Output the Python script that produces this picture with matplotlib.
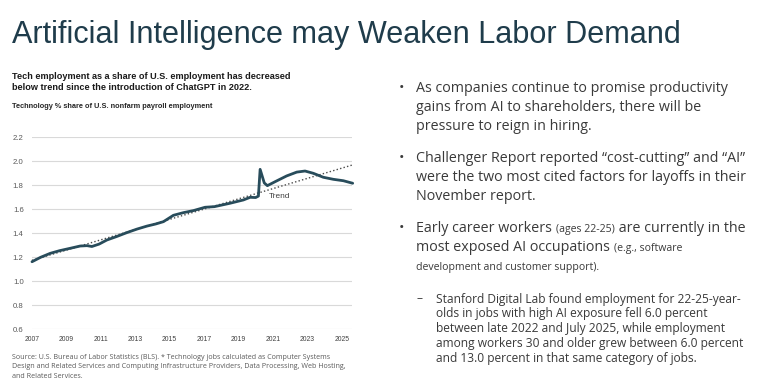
import matplotlib
matplotlib.use("Agg")
import matplotlib.pyplot as plt
from matplotlib import font_manager as fm

W, H = 780, 389
DPI = 100

# ---------------- data ----------------
years = [2007.0, 2007.5, 2008.06, 2008.6, 2009.22, 2009.8, 2010.2, 2010.48, 2010.9,
         2011.35, 2011.9, 2012.5, 2013.1, 2013.68, 2014.2, 2014.64, 2015.22, 2015.8,
         2016.38, 2017.06, 2017.6, 2018.5, 2019.29, 2019.68, 2020.0, 2020.16, 2020.26,
         2020.5, 2020.68, 2021.13, 2021.8, 2022.39, 2022.87, 2023.35, 2023.93, 2024.51,
         2025.1, 2025.64]
share = [1.163, 1.200, 1.233, 1.255, 1.275, 1.294, 1.297, 1.290, 1.310,
         1.344, 1.372, 1.405, 1.435, 1.460, 1.478, 1.497, 1.550, 1.572,
         1.589, 1.617, 1.622, 1.650, 1.678, 1.700, 1.698, 1.710, 1.933,
         1.820, 1.797, 1.830, 1.878, 1.910, 1.919, 1.900, 1.867, 1.850,
         1.838, 1.817]
trend_years = [2007.0, 2025.64]
trend_vals = [1.175, 1.970]
y_ticks = [0.6, 0.8, 1.0, 1.2, 1.4, 1.6, 1.8, 2.0, 2.2]
x_ticks = [2007, 2009, 2011, 2013, 2015, 2017, 2019, 2021, 2023, 2025]

title = "Artificial Intelligence may Weaken Labor Demand"
chart_title = ["Tech employment as a share of U.S. employment has decreased",
               "below trend since the introduction of ChatGPT in 2022."]
chart_sub = "Technology % share of U.S. nonfarm payroll employment"
source = ["Source: U.S. Bureau of Labor Statistics (BLS). * Technology jobs calculated as Computer Systems",
          "Design and Related Services and Computing Infrastructure Providers, Data Processing, Web Hosting,",
          "and Related Services."]

# ---------------- fonts ----------------
names = {f.name for f in fm.fontManager.ttflist}
NARROW = "Liberation Sans Narrow" if "Liberation Sans Narrow" in names else "Liberation Sans"
SANS = "Liberation Sans"
BODY = "Open Sans"

def pt(px):
    return px * 72.0 / DPI

fig = plt.figure(figsize=(W / DPI, H / DPI), dpi=DPI)
fig.patch.set_facecolor("white")

def fx(x):
    return x / W

def fy(y):
    return 1 - y / H

# ---------------- title ----------------
fig.text(fx(12), fy(43), title, fontsize=pt(30.7), family=SANS, color="#1f3c4b",
         va="baseline", ha="left")

fig.text(fx(12), fy(79), chart_title[0], fontsize=pt(9.1), family=NARROW,
         weight="bold", color="#1a1a1a", va="baseline")
fig.text(fx(12), fy(90.5), chart_title[1], fontsize=pt(9.1), family=NARROW,
         weight="bold", color="#1a1a1a", va="baseline")
fig.text(fx(12), fy(108.5), chart_sub, fontsize=pt(7.4), family=NARROW,
         weight="bold", color="#262626", va="baseline")

# ---------------- chart ----------------
x0, x1 = 32, 352
y_top, y_bot = 137.3, 329.3
ax = fig.add_axes([fx(x0), fy(y_bot), (x1 - x0) / W, (y_bot - y_top) / H])
ax.set_xlim(2007, 2025.6)
ax.set_ylim(0.6, 2.2)
for s in ax.spines.values():
    s.set_visible(False)
ax.set_yticks(y_ticks)
ax.set_yticklabels([f"{v:.1f}" for v in y_ticks], fontsize=pt(7.8), family=SANS,
                   color="#595959")
ax.set_xticks(x_ticks)
ax.set_xticklabels([str(v) for v in x_ticks], fontsize=pt(6.8), family=NARROW,
                   color="#404040")
ax.tick_params(axis="both", length=0)
ax.tick_params(axis="y", pad=6)
ax.tick_params(axis="x", pad=4.5)
ax.grid(axis="y", color="#d9d9d9", linewidth=0.8)
ax.set_axisbelow(True)
ax.plot(trend_years, trend_vals, linestyle=(0, (1, 1.6)), color="#4a4a4a",
        linewidth=1.0, clip_on=False)
ax.plot(years, share, color="#284c5b", linewidth=2.0, solid_joinstyle="round",
        solid_capstyle="round", clip_on=False)
ax.text(2021.38, 1.71, "Trend", fontsize=pt(8.3), family=NARROW, color="#404040",
        ha="center", va="center")

# ---------------- source ----------------
for i, line in enumerate(source):
    fig.text(fx(12), fy(359 + i * 9.5), line, fontsize=pt(7.2), family=BODY,
             color="#595959", va="baseline")

# ---------------- bullets ----------------
TXT = "#3a3a3a"
fig.canvas.draw()
renderer = fig.canvas.get_renderer()

def runs(x, y, parts):
    cx = x
    for text, size in parts:
        t = fig.text(fx(cx), fy(y), text, fontsize=pt(size), family=BODY,
                     color=TXT, va="baseline", ha="left")
        bb = t.get_window_extent(renderer=renderer)
        cx += bb.width

BX, TX = 398.5, 416.5
BS = 14.3
# bullet 1
fig.text(fx(BX), fy(92), "•", fontsize=pt(BS), family=BODY, color=TXT, va="baseline")
for i, ln in enumerate(["As companies continue to promise productivity",
                        "gains from AI to shareholders, there will be",
                        "pressure to reign in hiring."]):
    runs(TX, 92 + i * 18.8, [(ln, BS)])
# bullet 2
fig.text(fx(BX), fy(162), "•", fontsize=pt(BS), family=BODY, color=TXT, va="baseline")
for i, ln in enumerate(["Challenger Report reported “cost-cutting” and “AI”",
                        "were the two most cited factors for layoffs in their",
                        "November report."]):
    runs(TX, 162 + i * 18.8, [(ln, BS)])
# bullet 3
fig.text(fx(BX), fy(232), "•", fontsize=pt(BS), family=BODY, color=TXT, va="baseline")
runs(TX, 232, [("Early career workers ", BS), ("(ages 22-25)", 10.5),
               (" are currently in the", BS)])
runs(TX, 251, [("most exposed AI occupations ", BS), ("(e.g., software", 10.5)])
runs(TX, 270, [("development and customer support).", 10.5)])

# sub bullet
SS = 12.0
fig.text(fx(417), fy(302.5), "–", fontsize=pt(SS), family=BODY, color=TXT, va="baseline")
for i, ln in enumerate(["Stanford Digital Lab found employment for 22-25-year-",
                        "olds in jobs with high AI exposure fell 6.0 percent",
                        "between late 2022 and July 2025, while employment",
                        "among workers 30 and older grew between 6.0 percent",
                        "and 13.0 percent in that same category of jobs."]):
    runs(436.5, 302.5 + i * 14.8, [(ln, SS)])

fig.savefig("out.png", dpi=DPI)
